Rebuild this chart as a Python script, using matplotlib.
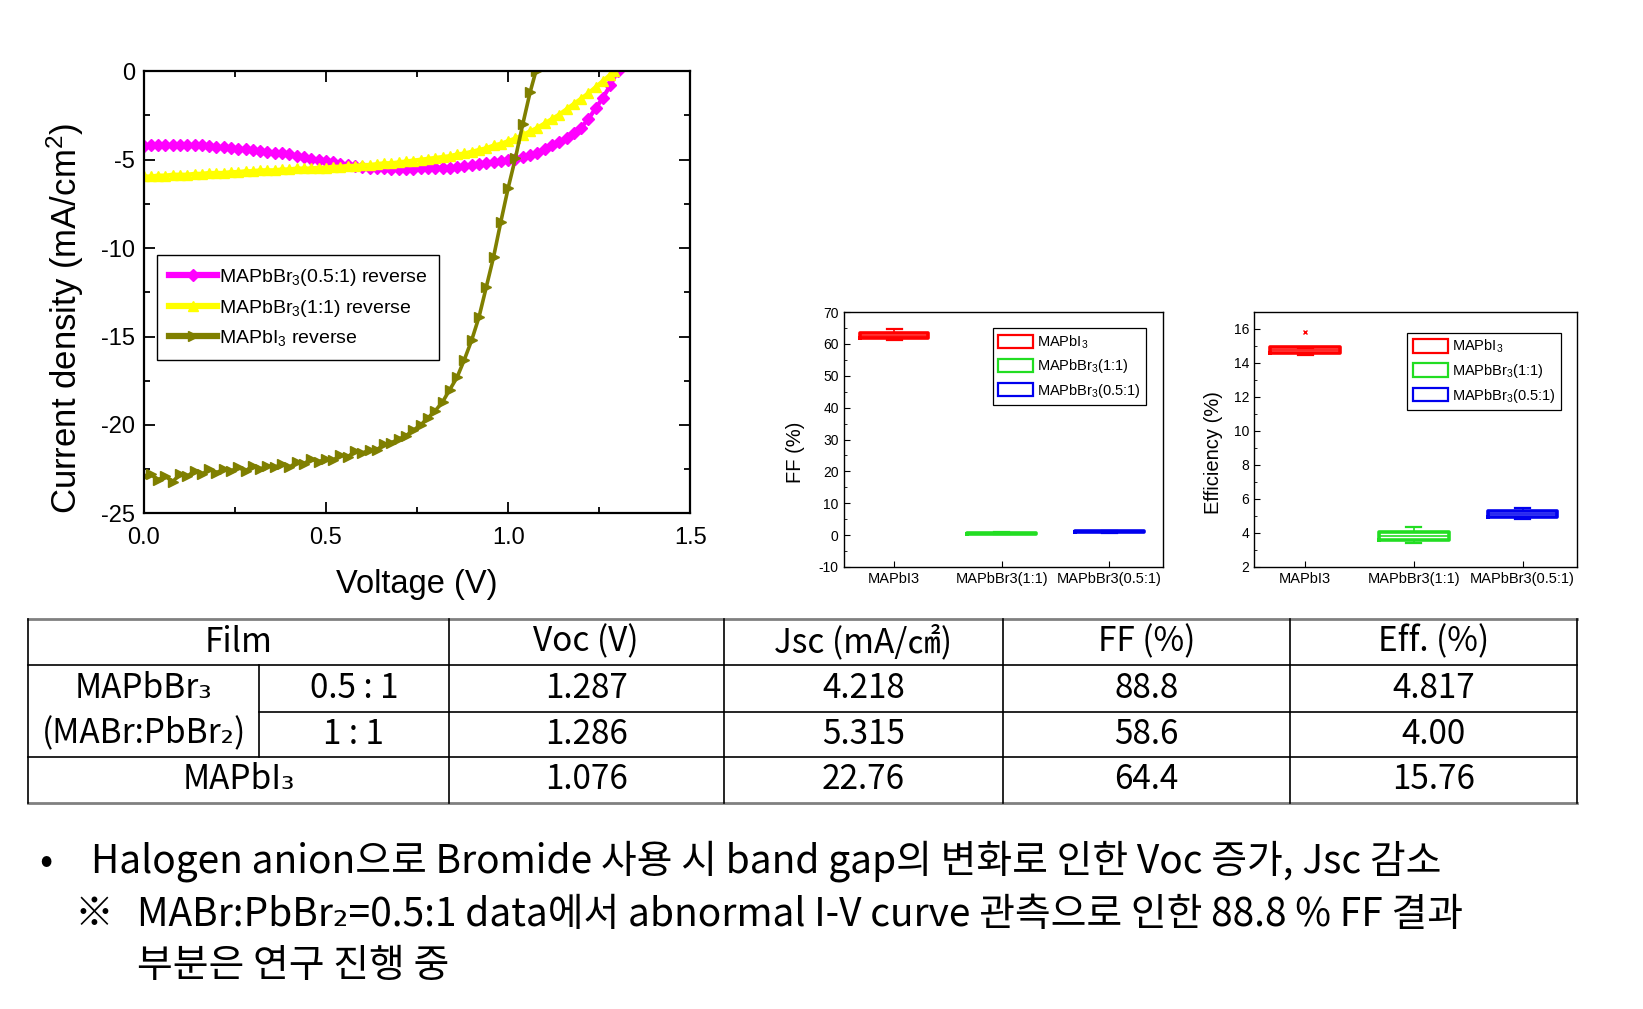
import matplotlib
matplotlib.use("Agg")
import matplotlib.pyplot as plt
from matplotlib.patches import Rectangle
from matplotlib.lines import Line2D
from matplotlib.ticker import MultipleLocator, FormatStrFormatter

plt.rcParams['axes.unicode_minus'] = False
plt.rcParams['mathtext.default'] = 'regular'
plt.rcParams['font.family'] = ['Liberation Sans', 'DejaVu Sans']

# ---------------- J-V data ----------------
v_i3 = [0.00, 0.02, 0.04, 0.06, 0.08, 0.10, 0.12, 0.14, 0.16, 0.18, 0.20, 0.22, 0.24, 0.26,
        0.28, 0.30, 0.32, 0.34, 0.36, 0.38, 0.40, 0.42, 0.44, 0.46, 0.48, 0.50, 0.52, 0.54,
        0.56, 0.58, 0.60, 0.62, 0.64, 0.66, 0.68, 0.70, 0.72, 0.74, 0.76, 0.78, 0.80, 0.82,
        0.84, 0.86, 0.88, 0.90, 0.92, 0.94, 0.96, 0.98, 1.00, 1.02, 1.04, 1.06, 1.076]
j_i3 = [-22.9, -22.8, -23.1, -22.9, -23.2, -22.8, -22.9, -22.6, -22.8, -22.5, -22.7, -22.5,
        -22.6, -22.4, -22.6, -22.3, -22.5, -22.3, -22.4, -22.2, -22.4, -22.1, -22.2, -21.9,
        -22.1, -21.9, -22.0, -21.7, -21.8, -21.5, -21.6, -21.4, -21.4, -21.1, -21.0, -20.8,
        -20.6, -20.3, -20.0, -19.6, -19.2, -18.7, -18.0, -17.3, -16.3, -15.2, -13.9, -12.2,
        -10.5, -8.5, -6.6, -4.9, -3.0, -1.2, 0.0]

v_br = [0.00, 0.02, 0.04, 0.06, 0.08, 0.10, 0.12, 0.14, 0.16, 0.18, 0.20, 0.22, 0.24, 0.26,
        0.28, 0.30, 0.32, 0.34, 0.36, 0.38, 0.40, 0.42, 0.44, 0.46, 0.48, 0.50, 0.52, 0.54,
        0.56, 0.58, 0.60, 0.62, 0.64, 0.66, 0.68, 0.70, 0.72, 0.74, 0.76, 0.78, 0.80, 0.82,
        0.84, 0.86, 0.88, 0.90, 0.92, 0.94, 0.96, 0.98, 1.00, 1.02, 1.04, 1.06, 1.08, 1.10,
        1.12, 1.14, 1.16, 1.18, 1.20, 1.22, 1.24, 1.26, 1.28, 1.30]
j_br05 = [-4.25, -4.2, -4.2, -4.15, -4.2, -4.2, -4.15, -4.2, -4.2, -4.25, -4.3, -4.3, -4.35,
          -4.4, -4.4, -4.45, -4.5, -4.55, -4.6, -4.65, -4.7, -4.8, -4.85, -4.95, -5.0, -5.1,
          -5.15, -5.25, -5.3, -5.35, -5.4, -5.45, -5.5, -5.5, -5.55, -5.55, -5.55, -5.55,
          -5.5, -5.5, -5.5, -5.45, -5.45, -5.4, -5.35, -5.3, -5.25, -5.2, -5.15, -5.05, -5.0,
          -4.95, -4.85, -4.75, -4.6, -4.4, -4.2, -4.0, -3.8, -3.5, -3.2, -2.7, -2.1, -1.5,
          -0.8, 0.0]

v_br11 = [0.00, 0.02, 0.04, 0.06, 0.08, 0.10, 0.12, 0.14, 0.16, 0.18, 0.20, 0.22, 0.24, 0.26,
          0.28, 0.30, 0.32, 0.34, 0.36, 0.38, 0.40, 0.42, 0.44, 0.46, 0.48, 0.50, 0.52, 0.54,
          0.56, 0.58, 0.60, 0.62, 0.64, 0.66, 0.68, 0.70, 0.72, 0.74, 0.76, 0.78, 0.80, 0.82,
          0.84, 0.86, 0.88, 0.90, 0.92, 0.94, 0.96, 0.98, 1.00, 1.02, 1.04, 1.06, 1.08, 1.10,
          1.12, 1.14, 1.16, 1.18, 1.20, 1.22, 1.24, 1.26, 1.28, 1.29]
j_br11 = [-5.95, -5.95, -5.9, -5.9, -5.85, -5.85, -5.85, -5.8, -5.8, -5.75, -5.75, -5.75,
          -5.7, -5.7, -5.65, -5.65, -5.6, -5.6, -5.6, -5.55, -5.55, -5.5, -5.5, -5.5, -5.45,
          -5.45, -5.4, -5.4, -5.35, -5.35, -5.3, -5.3, -5.25, -5.2, -5.2, -5.15, -5.1, -5.05,
          -5.0, -4.95, -4.9, -4.85, -4.8, -4.7, -4.65, -4.55, -4.45, -4.35, -4.2, -4.1, -3.95,
          -3.8, -3.6, -3.4, -3.2, -2.95, -2.7, -2.45, -2.15, -1.85, -1.55, -1.25, -0.9, -0.55,
          -0.2, 0.0]

jv_labels = ["MAPbBr$_3$(0.5:1) reverse", "MAPbBr$_3$(1:1) reverse", "MAPbI$_3$ reverse"]

# ---------------- box plot statistics ----------------
box_cats = ["MAPbI3", "MAPbBr3(1:1)", "MAPbBr3(0.5:1)"]
box_legend = ["MAPbI$_3$", "MAPbBr$_3$(1:1)", "MAPbBr$_3$(0.5:1)"]
box_colors = ["#ff0000", "#22dd22", "#0000ee"]

ff_whislo = [61.2, 0.35, 0.75]
ff_q1 = [61.7, 0.45, 0.85]
ff_med = [62.4, 0.6, 1.0]
ff_q3 = [63.4, 0.75, 1.15]
ff_whishi = [64.6, 0.85, 1.3]

eff_whislo = [14.46, 3.44, 4.82]
eff_q1 = [14.6, 3.58, 4.96]
eff_med = [14.75, 3.85, 5.12]
eff_q3 = [14.96, 4.07, 5.31]
eff_whishi = [14.9, 4.33, 5.49]
eff_fliers = [[15.84], [], []]

# ---------------- table ----------------
table_header = ["Film", "Voc (V)", "Jsc (mA/㎠)", "FF (%)", "Eff. (%)"]
film_group = ["MAPbBr₃", "(MABr:PbBr₂)"]
film_ratio = ["0.5 : 1", "1 : 1"]
film_last = "MAPbI₃"
voc = ["1.287", "1.286", "1.076"]
jsc = ["4.218", "5.315", "22.76"]
ff = ["88.8", "58.6", "64.4"]
eff = ["4.817", "4.00", "15.76"]

notes = ["Halogen anion으로 Bromide 사용 시 band gap의 변화로 인한 Voc 증가, Jsc 감소",
         "MABr:PbBr₂=0.5:1 data에서 abnormal I-V curve 관측으로 인한 88.8 % FF 결과",
         "부분은 연구 진행 중"]

W, H = 1643, 1009
fig = plt.figure(figsize=(W / 100, H / 100), dpi=100)


def fax(x0, y0, x1, y1):
    return fig.add_axes([x0 / W, 1 - y1 / H, (x1 - x0) / W, (y1 - y0) / H])


# ---------------- J-V axes ----------------
ax = fax(143.5, 71.2, 690.5, 513.4)
ax.plot(v_br, j_br05, color="#ff00ff", lw=3, marker="D", ms=6.5, mec="#ff00ff",
        label=jv_labels[0])
ax.plot(v_br11, j_br11, color="#ffff00", lw=3, marker="^", ms=7, mec="#ffff00",
        label=jv_labels[1])
ax.plot(v_i3, j_i3, color="#7f7f00", lw=2.6, marker=">", ms=7, mec="#7f7f00",
        label=jv_labels[2])
ax.set_xlim(0, 1.5)
ax.set_ylim(-25, 0)
ax.xaxis.set_major_locator(MultipleLocator(0.5))
ax.xaxis.set_minor_locator(MultipleLocator(0.25))
ax.yaxis.set_major_locator(MultipleLocator(5))
ax.yaxis.set_minor_locator(MultipleLocator(2.5))
ax.xaxis.set_major_formatter(FormatStrFormatter('%.1f'))
ax.yaxis.set_major_formatter(FormatStrFormatter('%d'))
ax.tick_params(which='both', direction='in', top=True, right=True, width=1.3)
ax.tick_params(which='major', length=8, labelsize=17)
ax.tick_params(axis='x', pad=10)
ax.tick_params(axis='y', pad=6)
ax.tick_params(which='minor', length=4)
for s in ax.spines.values():
    s.set_linewidth(1.6)
ax.set_xlabel("Voltage (V)", fontsize=23.5, labelpad=14)
ax.set_ylabel("Current density (mA/cm$^2$)", fontsize=25)
ax.yaxis.set_label_coords(-0.105, 0.442)
leg = ax.legend(loc='upper left', bbox_to_anchor=(0.0247, 0.584), borderaxespad=0,
                fontsize=14, numpoints=1, handlelength=2.5, handletextpad=0.1,
                fancybox=False, edgecolor='black', framealpha=1, labelspacing=0.5,
                borderpad=0.6)
leg.get_frame().set_linewidth(1.0)
for ln in leg.get_lines():
    ln.set_linewidth(4.5)


# ---------------- box plots ----------------
def boxplot(axb, whislo, q1, med, q3, whishi, fliers, ylim, major, minor, ylabel, leg_anchor,
            label_x):
    stats = []
    for i in range(len(box_cats)):
        stats.append(dict(whislo=whislo[i], q1=q1[i], med=med[i], q3=q3[i], whishi=whishi[i],
                          fliers=fliers[i], label=box_cats[i]))
    res = axb.bxp(stats, positions=[1, 2, 3], widths=0.64, capwidths=0.14, showfliers=True,
                  boxprops=dict(lw=2.6), medianprops=dict(lw=1.2),
                  whiskerprops=dict(lw=1.2), capprops=dict(lw=1.6),
                  flierprops=dict(marker='x', ms=3, mew=1))
    for i, c in enumerate(box_colors):
        res['boxes'][i].set_color(c)
        res['medians'][i].set_color(c)
        res['fliers'][i].set_markeredgecolor(c)
        for k in (2 * i, 2 * i + 1):
            res['whiskers'][k].set_color(c)
            res['caps'][k].set_color(c)
    axb.set_xlim(0.53, 3.5)
    axb.set_ylim(*ylim)
    axb.yaxis.set_major_locator(MultipleLocator(major))
    axb.yaxis.set_minor_locator(MultipleLocator(minor))
    axb.tick_params(which='both', direction='in', labelsize=10)
    axb.tick_params(axis='x', labelsize=10.5, length=4)
    axb.tick_params(which='major', length=4)
    axb.tick_params(which='minor', length=2)
    for s in axb.spines.values():
        s.set_linewidth(1.0)
    axb.set_ylabel(ylabel, fontsize=14.5)
    axb.yaxis.set_label_coords(label_x, 0.449)
    handles = [Rectangle((0, 0), 1, 1, facecolor='white', edgecolor=c, lw=1.6)
               for c in box_colors]
    lg = axb.legend(handles, box_legend, loc='upper right', bbox_to_anchor=leg_anchor,
                    borderaxespad=0, fontsize=10.5, handlelength=2.4, handleheight=1.0,
                    handletextpad=0.3, fancybox=False, edgecolor='black', framealpha=1,
                    labelspacing=0.45, borderpad=0.35)
    lg.get_frame().set_linewidth(0.9)


ax_ff = fax(843.5, 312, 1163, 567)
boxplot(ax_ff, ff_whislo, ff_q1, ff_med, ff_q3, ff_whishi, [[], [], []], (-10, 70), 10, 5,
        "FF (%)", (0.947, 0.937), -0.119)
ax_ef = fax(1254, 312, 1577, 567)
boxplot(ax_ef, eff_whislo, eff_q1, eff_med, eff_q3, eff_whishi, eff_fliers, (2, 17), 2, 1,
        "Efficiency (%)", (0.950, 0.918), -0.096)

# ---------------- table & notes (pixel overlay) ----------------
ov = fig.add_axes([0, 0, 1, 1])
ov.set_xlim(0, W)
ov.set_ylim(H, 0)
ov.axis('off')
kfont = ['Noto Sans CJK KR', 'DejaVu Sans']

tx = [28.3, 259, 448.5, 724, 1002.7, 1290, 1577]
ty = [619, 665, 711.5, 756.5, 802.6]
ov.add_line(Line2D([tx[0], tx[-1]], [ty[0], ty[0]], color='#808080', lw=2))
ov.add_line(Line2D([tx[0], tx[-1]], [ty[-1], ty[-1]], color='#808080', lw=2))
ov.add_line(Line2D([tx[0], tx[-1]], [ty[1], ty[1]], color='black', lw=1.2))
ov.add_line(Line2D([tx[1], tx[-1]], [ty[2], ty[2]], color='black', lw=1.2))
ov.add_line(Line2D([tx[0], tx[-1]], [ty[3], ty[3]], color='black', lw=1.2))
for i, x in enumerate(tx):
    if i == 1:
        ov.add_line(Line2D([x, x], [ty[1], ty[3]], color='black', lw=1.2))
    else:
        ov.add_line(Line2D([x, x], [ty[0], ty[-1]], color='black', lw=1.2))

tfs = 24
rowc = [(ty[i] + ty[i + 1]) / 2 for i in range(4)]
colc = [(tx[i] + tx[i + 1]) / 2 for i in range(2, 6)]
ov.text((tx[0] + tx[2]) / 2, rowc[0], table_header[0], ha='center', va='center',
        fontsize=tfs, family=kfont)
for j in range(4):
    ov.text(colc[j], rowc[0], table_header[j + 1], ha='center', va='center', fontsize=tfs,
            family=kfont)
ov.text((tx[0] + tx[1]) / 2, rowc[1], film_group[0], ha='center', va='center', fontsize=tfs,
        family=kfont)
ov.text((tx[0] + tx[1]) / 2, rowc[2], film_group[1], ha='center', va='center', fontsize=tfs,
        family=kfont)
for r in range(2):
    ov.text((tx[1] + tx[2]) / 2, rowc[r + 1], film_ratio[r], ha='center', va='center',
            fontsize=tfs, family=kfont)
ov.text((tx[0] + tx[2]) / 2, rowc[3], film_last, ha='center', va='center', fontsize=tfs,
        family=kfont)
for r in range(3):
    for j, col in enumerate([voc, jsc, ff, eff]):
        ov.text(colc[j], rowc[r + 1], col[r], ha='center', va='center', fontsize=tfs,
                family=kfont)

nfs = 28
ov.text(46, 873, "•", ha='center', va='baseline', fontsize=nfs, family=kfont)
ov.text(91, 873, notes[0], ha='left', va='baseline', fontsize=nfs, family=kfont)
ov.text(94, 926, "※", ha='center', va='baseline', fontsize=nfs, family=kfont)
ov.text(137, 926, notes[1], ha='left', va='baseline', fontsize=nfs, family=kfont)
ov.text(137, 977, notes[2], ha='left', va='baseline', fontsize=nfs, family=kfont)

fig.savefig("out.png", dpi=100)
